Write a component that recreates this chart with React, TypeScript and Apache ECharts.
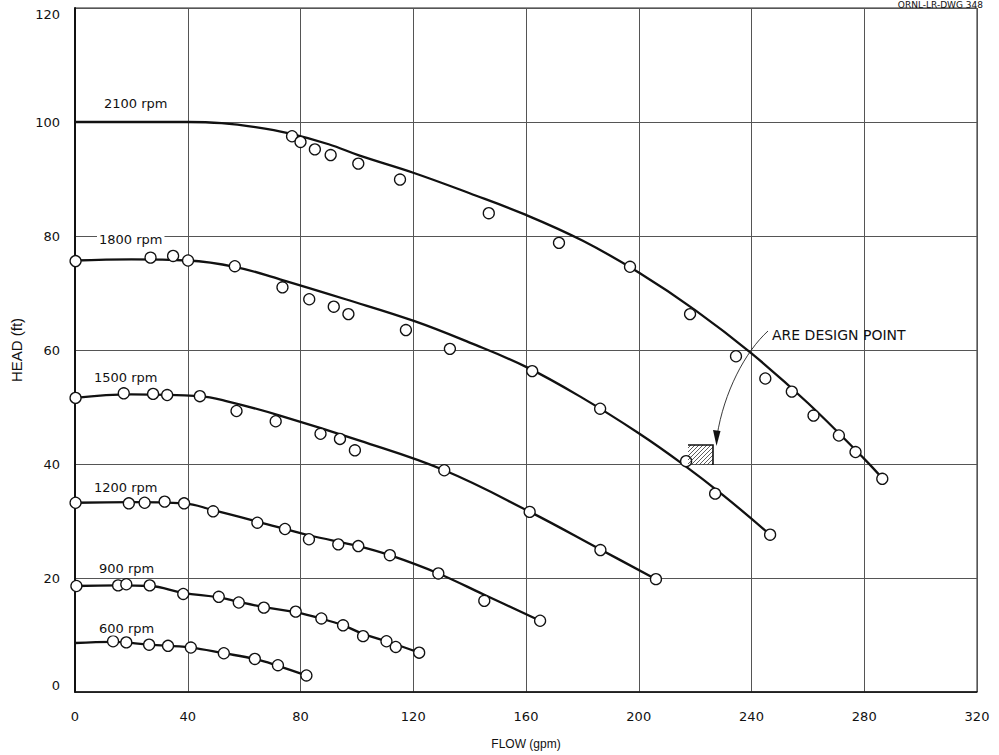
import React, { useEffect, useRef } from "react";
import * as echarts from "echarts";

// ---- axis settings ----
const FLOW_MIN = 0;
const FLOW_MAX = 320;
const FLOW_STEP = 40;
const HEAD_MIN = 0;
const HEAD_MAX = 120;
const HEAD_STEP = 20;

const RPM_LABELS = ["2100 rpm", "1800 rpm", "1500 rpm", "1200 rpm", "900 rpm", "600 rpm"];

// ---- fitted curves (flow gpm, head ft) ----
const curve2100 = [[0, 100], [20, 100], [40, 100], [52, 99.8], [64, 99.1], [76, 98.0], [90, 96.1], [101, 94.1], [120, 91.1], [140, 87.5], [160, 83.7], [180, 79.2], [200, 73.6], [220, 67.0], [240, 59.4], [260, 50.7], [280, 40.9], [286.4, 37.5]];
const curve1800 = [[0, 75.7], [20, 75.9], [40, 75.7], [56.7, 74.6], [72.7, 72.4], [96, 68.9], [120.2, 65.1], [140, 61.3], [160.2, 57.0], [180, 51.6], [200, 45.4], [215, 40.2], [230, 34.5], [246.6, 27.6]];
const curve1500 = [[0, 51.6], [20, 52.2], [44, 51.9], [54, 51.0], [72.7, 48.5], [101, 44.1], [131, 38.9], [161.4, 31.6], [186.4, 25.0], [206.1, 19.8]];
const curve1200 = [[0, 33.2], [20, 33.3], [38.7, 33.1], [49, 31.9], [64.7, 29.9], [83, 27.5], [100.5, 25.6], [111.7, 24.0], [128.9, 20.8], [145, 17.1], [165, 12.5]];
const curve900 = [[0, 18.6], [15, 18.7], [26.5, 18.6], [38.4, 17.4], [51, 16.6], [58.1, 15.8], [67, 14.9], [78.2, 14.0], [87.2, 12.9], [95.1, 11.7], [102.2, 10.2], [110.5, 8.9], [122.1, 6.9]];
const curve600 = [[0, 8.6], [13.5, 8.8], [26.3, 8.3], [41.1, 7.8], [52.8, 6.8], [63.8, 5.8], [72, 4.6], [82.1, 2.9]];

// ---- measured points ----
const pts2100 = [[77.0, 97.5], [80.0, 96.5], [85.1, 95.2], [90.7, 94.2], [100.5, 92.7], [115.3, 89.9], [146.8, 84.0], [171.7, 78.8], [196.9, 74.6], [218.2, 66.3], [234.5, 58.9], [244.9, 55.0], [254.3, 52.7], [262.0, 48.5], [271.0, 45.0], [276.9, 42.1], [286.4, 37.4]];
const pts1800 = [[0.2, 75.6], [26.8, 76.2], [34.8, 76.5], [40.1, 75.7], [56.7, 74.7], [73.6, 71.0], [83.1, 68.9], [91.8, 67.6], [97.0, 66.3], [117.4, 63.5], [133.0, 60.2], [162.2, 56.3], [186.3, 49.7], [216.8, 40.5], [227.1, 34.8], [246.6, 27.6]];
const pts1500 = [[0.2, 51.6], [17.3, 52.4], [27.7, 52.3], [32.7, 52.1], [44.3, 51.9], [57.3, 49.3], [71.2, 47.5], [87.1, 45.3], [94.0, 44.4], [99.3, 42.4], [131.0, 38.9], [161.3, 31.6], [186.4, 24.9], [206.1, 19.8]];
const pts1200 = [[0.2, 33.2], [19.1, 33.1], [24.7, 33.2], [31.8, 33.4], [38.7, 33.1], [49.0, 31.7], [64.7, 29.7], [74.5, 28.6], [83.0, 26.8], [93.4, 25.9], [100.5, 25.6], [111.7, 24.0], [128.9, 20.8], [145.2, 16.0], [165.0, 12.5]];
const pts900 = [[0.5, 18.6], [15.3, 18.7], [18.2, 18.9], [26.5, 18.7], [38.4, 17.2], [51.0, 16.7], [58.1, 15.7], [67.0, 14.8], [78.3, 14.1], [87.4, 12.9], [95.1, 11.7], [102.2, 9.8], [110.5, 8.9], [113.8, 7.9], [122.1, 6.9]];
const pts600 = [[13.5, 8.9], [18.2, 8.7], [26.3, 8.3], [33.0, 8.1], [41.1, 7.8], [52.8, 6.8], [63.8, 5.8], [72.0, 4.7], [82.1, 2.9]];

const CURVES = [curve2100, curve1800, curve1500, curve1200, curve900, curve600];
const POINTS = [pts2100, pts1800, pts1500, pts1200, pts900, pts600];

const FONT = "DejaVu Sans, Liberation Sans, sans-serif";
const NARROW = "Liberation Sans Narrow, Liberation Sans, sans-serif";

export default function App() {
  const ref = useRef<HTMLDivElement>(null);

  useEffect(() => {
    if (!ref.current) return;
    const chart = echarts.init(ref.current, null, { renderer: "svg" });

    const series: any[] = [];
    CURVES.forEach((c, i) => {
      series.push({
        type: "line",
        name: RPM_LABELS[i],
        data: c,
        smooth: 0.4,
        showSymbol: false,
        symbol: "none",
        lineStyle: { color: "#111", width: 2.3 },
        z: 3,
      });
    });
    POINTS.forEach((p, i) => {
      series.push({
        type: "scatter",
        name: RPM_LABELS[i] + " data",
        data: p,
        symbol: "circle",
        symbolSize: 11,
        itemStyle: { color: "#fff", borderColor: "#111", borderWidth: 1.3, opacity: 1 },
        z: 5,
      });
    });

    // rpm labels (pixel positions)
    const labelPos = [
      [102, 103],
      [97, 239],
      [92, 377],
      [92, 487],
      [97, 568],
      [97, 628],
    ];
    const graphics: any[] = RPM_LABELS.map((t, i) => ({
      type: "text",
      x: labelPos[i][0],
      y: labelPos[i][1],
      z: 10,
      style: {
        text: t,
        fill: "#111",
        font: `13px ${FONT}`,
        textAlign: "left",
        textVerticalAlign: "middle",
        backgroundColor: "#fff",
        padding: [1, 2],
      },
    }));

    // drawing number at the top right
    graphics.push({
      type: "text",
      x: 983,
      y: 0,
      style: {
        text: "ORNL-LR-DWG 348",
        fill: "#111",
        font: `9px ${FONT}`,
        textAlign: "right",
        textVerticalAlign: "top",
      },
    });

    // design point annotation
    graphics.push({
      type: "text",
      x: 772,
      y: 335,
      z: 10,
      style: {
        text: "ARE DESIGN POINT",
        fill: "#111",
        font: `14px ${FONT}`,
        textAlign: "left",
        textVerticalAlign: "middle",
      },
    });
    graphics.push({
      type: "bezierCurve",
      z: 10,
      shape: { x1: 768, y1: 331, cpx1: 745, cpy1: 352, cpx2: 724, cpy2: 392, x2: 717, y2: 436 },
      style: { stroke: "#222", lineWidth: 0.9, fill: null },
    });
    graphics.push({
      type: "polygon",
      z: 10,
      shape: { points: [[713, 430], [720.5, 431], [716.5, 446]] },
      style: { fill: "#111" },
    });
    // hatched design box
    const hx0 = 688, hx1 = 713, hy0 = 445, hy1 = 465;
    graphics.push({
      type: "polyline",
      z: 10,
      shape: { points: [[hx0, hy0], [hx1, hy0], [hx1, hy1]] },
      style: { stroke: "#111", lineWidth: 1.6, fill: null },
    });
    for (let s = hx0 - (hy1 - hy0) + 3; s < hx1; s += 4) {
      const h = hy1 - hy0;
      let xa = s, ya = hy1, xb = s + h, yb = hy0;
      if (xa < hx0) { ya = hy1 - (hx0 - xa); xa = hx0; }
      if (xb > hx1) { yb = hy0 + (xb - hx1); xb = hx1; }
      if (xb - xa < 1) continue;
      graphics.push({
        type: "line",
        z: 9,
        shape: { x1: xa, y1: ya, x2: xb, y2: yb },
        style: { stroke: "#333", lineWidth: 0.8 },
      });
    }

    const option: any = {
      animation: false,
      backgroundColor: "#fff",
      grid: {
        left: 75,
        top: 8,
        width: 902,
        height: 686,
        show: true,
        borderColor: "#222",
        borderWidth: 1,
        backgroundColor: "transparent",
      },
      xAxis: {
        type: "value",
        min: FLOW_MIN,
        max: FLOW_MAX,
        interval: FLOW_STEP,
        name: "FLOW (gpm)",
        nameLocation: "middle",
        nameGap: 46,
        nameTextStyle: { fontFamily: NARROW, fontSize: 12, color: "#111" },
        axisLine: { show: true, lineStyle: { color: "#111", width: 1.5 } },
        axisTick: { show: false },
        axisLabel: { margin: 18, fontFamily: FONT, fontSize: 13, color: "#111" },
        splitLine: { show: true, lineStyle: { color: "#555", width: 1 } },
      },
      yAxis: {
        type: "value",
        min: HEAD_MIN,
        max: HEAD_MAX,
        interval: HEAD_STEP,
        name: "HEAD (ft)",
        nameLocation: "middle",
        nameGap: 50,
        nameRotate: 90,
        nameTextStyle: { fontFamily: NARROW, fontSize: 15, color: "#111" },
        axisLine: { show: true, lineStyle: { color: "#111", width: 2 } },
        axisTick: { show: false },
        axisLabel: {
          margin: 15,
          fontFamily: FONT,
          fontSize: 13,
          color: "#111",
          verticalAlignMaxLabel: "top",
          verticalAlignMinLabel: "bottom",
        },
        splitLine: { show: true, lineStyle: { color: "#555", width: 1 } },
      },
      series,
      graphic: graphics,
    };
    chart.setOption(option);
    return () => chart.dispose();
  }, []);

  return (
    <div
      ref={ref}
      style={{ position: "fixed", left: 0, top: 0, width: 999, height: 755, background: "#fff" }}
    />
  );
}
